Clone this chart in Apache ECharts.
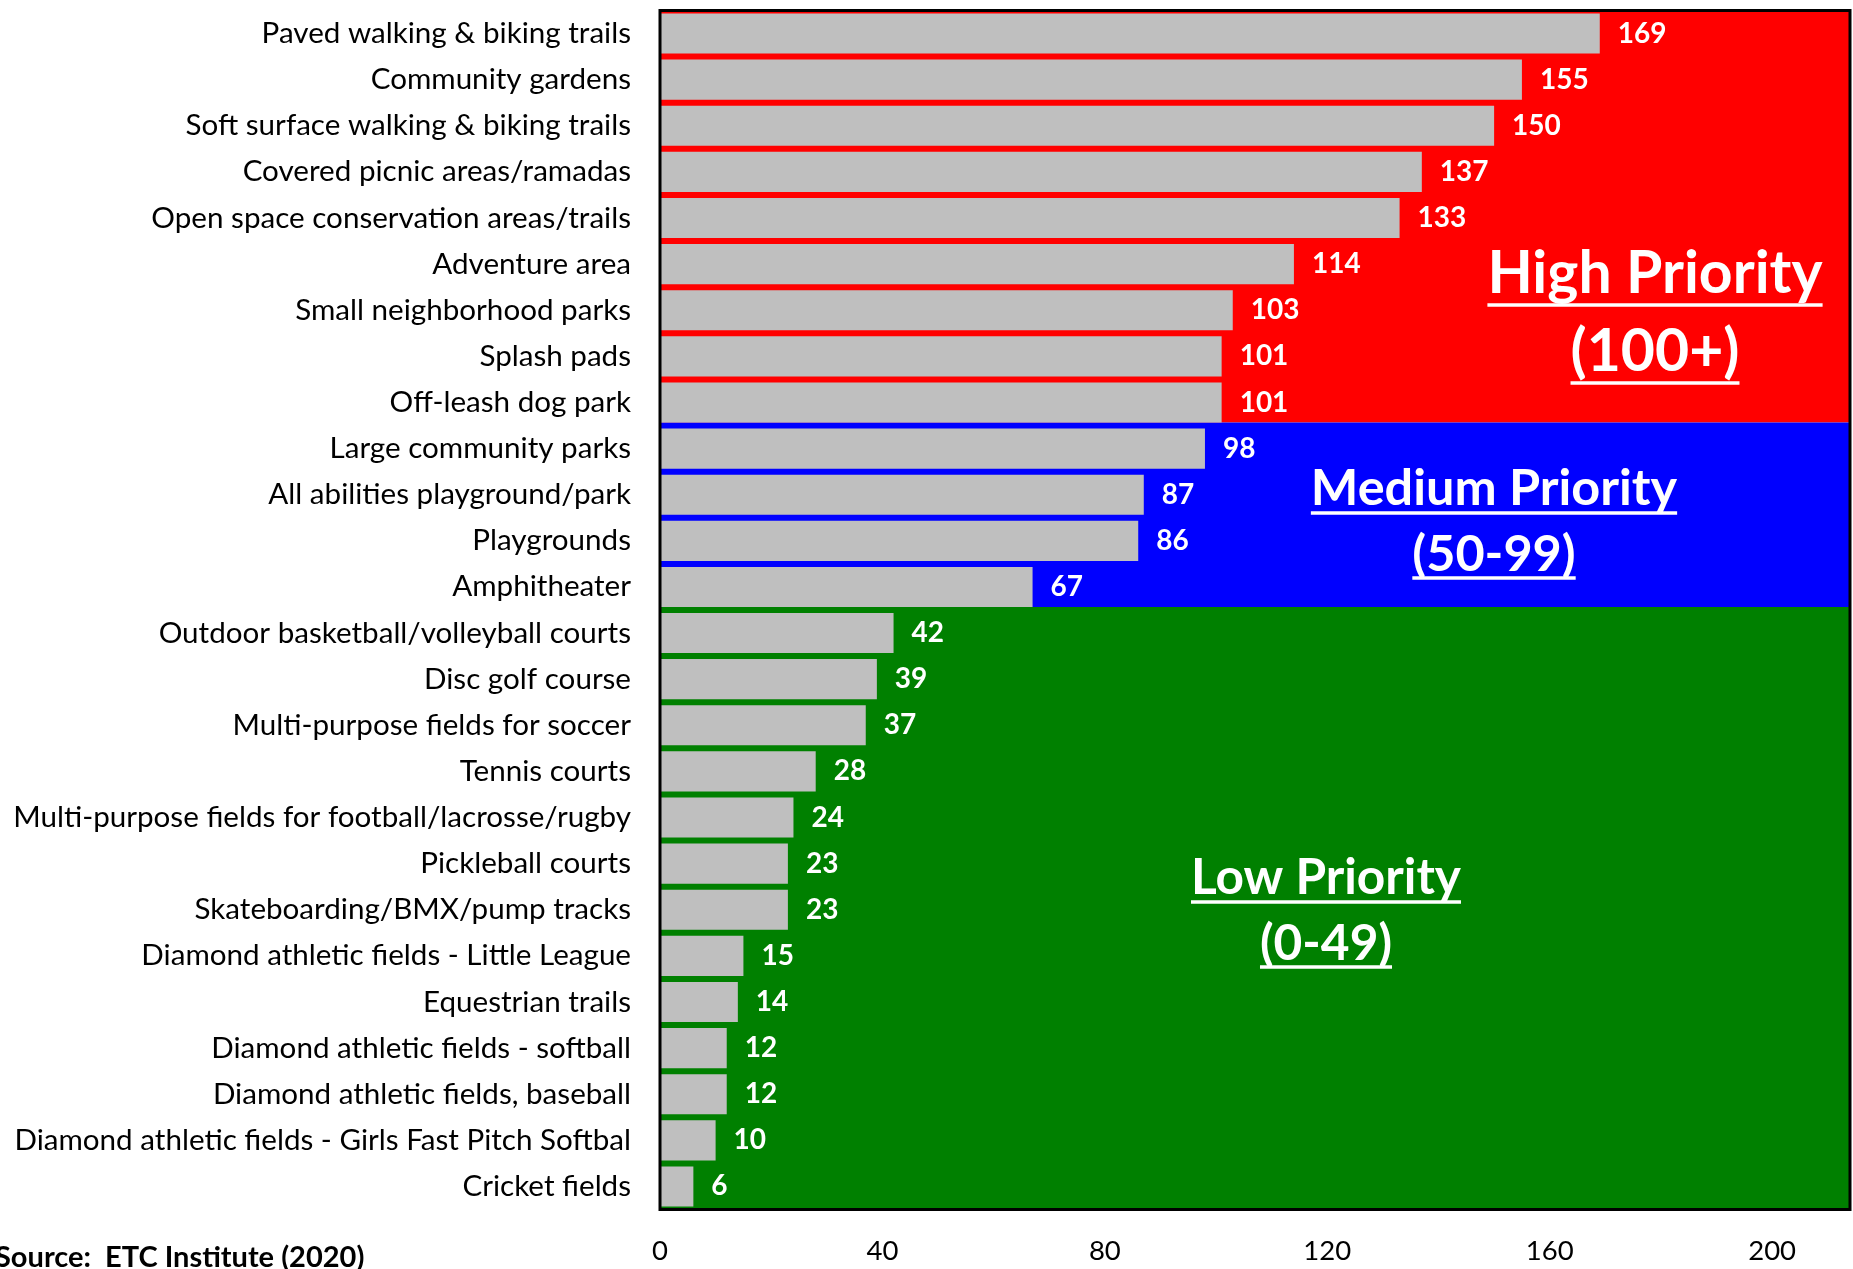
<!DOCTYPE html>
<html>
<head>
<meta charset="utf-8">
<title>Amenity priority ratings</title>
<script src="https://cdn.jsdelivr.net/npm/echarts@6/dist/echarts.min.js"></script>
<style>
  html, body { margin: 0; padding: 0; background: #fff; }
  #chart { width: 1853px; height: 1269px; }
</style>
</head>
<body>
<div id="chart"></div>
<script>
// Facilities, ranked by priority score
const categories = [
  'Paved walking & biking trails',
  'Community gardens',
  'Soft surface walking & biking trails',
  'Covered picnic areas/ramadas',
  'Open space conservation areas/trails',
  'Adventure area',
  'Small neighborhood parks',
  'Splash pads',
  'Off-leash dog park',
  'Large community parks',
  'All abilities playground/park',
  'Playgrounds',
  'Amphitheater',
  'Outdoor basketball/volleyball courts',
  'Disc golf course',
  'Multi-purpose fields for soccer',
  'Tennis courts',
  'Multi-purpose fields for football/lacrosse/rugby',
  'Pickleball courts',
  'Skateboarding/BMX/pump tracks',
  'Diamond athletic fields - Little League',
  'Equestrian trails',
  'Diamond athletic fields - softball',
  'Diamond athletic fields, baseball',
  'Diamond athletic fields - Girls Fast Pitch Softbal',
  'Cricket fields'
];
const values = [169, 155, 150, 137, 133, 114, 103, 101, 101, 98, 87, 86, 67,
                42, 39, 37, 28, 24, 23, 23, 15, 14, 12, 12, 10, 6];

// Priority tiers: lower bound of each tier, its heading and range text
const tierThresholds = [100, 50, 0];
const tierTitles = ['High Priority', 'Medium Priority', 'Low Priority'];
const tierRanges = ['(100+)', '(50-99)', '(0-49)'];
const tierColors = ['#FF0000', '#0000FF', '#008000'];

// Value axis
const axisMax = 214;
const tickStep = 40;
const tickLabels = [0, 40, 80, 120, 160, 200];

const source = 'Source:  ETC Institute (2020)';

// Rows belonging to each tier (first and last index)
const tierRows = tierThresholds.map((lo, t) => {
  const hi = t === 0 ? Infinity : tierThresholds[t - 1];
  const idx = values.map((v, i) => (v >= lo && v < hi ? i : -1)).filter(i => i >= 0);
  return [idx[0], idx[idx.length - 1], t];
});

const BAR_FILL = 0.87;          // share of each row taken by the bar
const FONT = 'Lato';

const chart = echarts.init(document.getElementById('chart'), null, { renderer: 'canvas' });

const meas = document.createElement('canvas').getContext('2d');
function textWidth(str, font) { meas.font = font; return meas.measureText(str).width; }

// Heading layout: centre x, middle y of each line, underline y, width of first line
const tierLayout = [
  { cx: 1655, y1: 274, y2: 352, u1: 305, u2: 383, w: 335 },
  { cx: 1494, y1: 489, y2: 555, u1: 513, u2: 578, w: 366 },
  { cx: 1326, y1: 878, y2: 944, u1: 902, u2: 967, w: 270 }
];

const graphics = [];
tierTitles.forEach((title, t) => {
  const L = tierLayout[t];
  const size = 100 * L.w / textWidth(title, `bold 100px ${FONT}`);
  const font = `bold ${size.toFixed(1)}px ${FONT}`;
  [[title, L.y1, L.u1], [tierRanges[t], L.y2, L.u2]].forEach(([txt, y, u]) => {
    const w = textWidth(txt, font);
    graphics.push({
      type: 'text', z: 20, silent: true,
      style: { text: txt, x: L.cx, y: y, align: 'center', verticalAlign: 'middle',
               fill: '#fff', font: font }
    });
    graphics.push({
      type: 'rect', z: 20, silent: true,
      shape: { x: L.cx - w / 2, y: u - 1.75, width: w, height: 3.5 },
      style: { fill: '#fff' }
    });
  });
});

graphics.push({
  type: 'text', z: 20, silent: true,
  style: { text: source, x: -5, y: 1258, align: 'left', verticalAlign: 'middle',
           fill: '#000', font: `bold 29px ${FONT}` }
});

const option = {
  animation: false,
  grid: {
    left: 660, right: 2, top: 10.5, bottom: 59.5,
    show: true, z: 10,
    backgroundColor: 'transparent',
    borderColor: '#000', borderWidth: 3
  },
  xAxis: {
    type: 'value', min: 0, max: axisMax, interval: tickStep,
    axisLine: { show: false }, axisTick: { show: false }, splitLine: { show: false },
    axisLabel: {
      color: '#000', fontFamily: FONT, fontSize: 27.5, margin: 28,
      formatter: v => (tickLabels.includes(v) ? String(v) : '')
    }
  },
  yAxis: {
    type: 'category', data: categories, inverse: true,
    axisLine: { show: false }, axisTick: { show: false }, splitLine: { show: false },
    axisLabel: { color: '#000', fontFamily: FONT, fontSize: 29.6, margin: 29, padding: [4, 0, 0, 0] }
  },
  series: [
    {
      // coloured tier backgrounds, split just below the last bar of each tier
      type: 'custom', z: 1, silent: true,
      data: tierRows,
      encode: { y: [0, 1] },
      renderItem(params, api) {
        const first = api.value(0), last = api.value(1), tier = api.value(2);
        const cs = params.coordSys;
        const rowH = api.size([0, 1])[1];
        const half = rowH * BAR_FILL / 2;
        const top = first === 0 ? cs.y : api.coord([0, first - 1])[1] + half;
        const bottom = last === categories.length - 1 ? cs.y + cs.height : api.coord([0, last])[1] + half;
        return {
          type: 'rect',
          shape: { x: cs.x, y: top, width: cs.width, height: bottom - top },
          style: { fill: tierColors[tier] }
        };
      }
    },
    {
      type: 'bar', z: 2,
      data: values,
      barCategoryGap: '13%',
      itemStyle: { color: '#BFBFBF' },
      label: {
        show: true, position: 'right', distance: 18,
        color: '#fff', fontFamily: FONT, fontWeight: 'bold', fontSize: 28,
        padding: [3, 0, 0, 0],
        formatter: '{c}'
      }
    }
  ],
  graphic: graphics
};

chart.setOption(option);
</script>
</body>
</html>
